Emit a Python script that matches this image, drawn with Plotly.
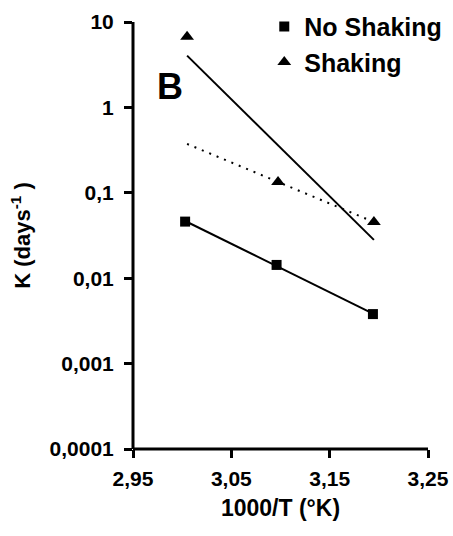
import numpy as np
import plotly.graph_objects as go

# 1000/T (1/K) for the three incubation temperatures
x_no_shaking = [3.003, 3.096, 3.194]
k_no_shaking = [0.046, 0.0143, 0.0038]

x_shaking = [3.005, 3.0975, 3.195]
k_shaking = [6.7, 0.134, 0.0455]

x_tickvals = [2.95, 3.05, 3.15, 3.25]
x_ticktext = ["2,95", "3,05", "3,15", "3,25"]
y_tickvals = [0.0001, 0.001, 0.01, 0.1, 1, 10]
y_ticktext = ["0,0001", "0,001", "0,01", "0,1", "1", "10"]

FONT = "Liberation Sans, Arial, sans-serif"


def bold(s):
    return f"<b>{s}</b>"


def log_fit(xs, ks):
    """Least-squares fit of log10(k) against 1000/T, evaluated at the end points."""
    slope, intercept = np.polyfit(xs, np.log10(ks), 1)
    xe = np.array([xs[0], xs[-1]])
    return xe, 10 ** (slope * xe + intercept)


fit_ns_x, fit_ns_y = log_fit(x_no_shaking, k_no_shaking)
fit_s_x, fit_s_y = log_fit(x_shaking, k_shaking)
# Fit through the two lower-temperature shaking points, extended to the first temperature
slope2, icpt2 = np.polyfit(x_shaking[1:], np.log10(k_shaking[1:]), 1)
fit_s2_x = np.array([x_shaking[0], x_shaking[-1]])
fit_s2_y = 10 ** (slope2 * fit_s2_x + icpt2)

fig = go.Figure()

fig.add_trace(go.Scatter(x=fit_ns_x, y=fit_ns_y, mode="lines",
                         line=dict(color="black", width=2), showlegend=False))
fig.add_trace(go.Scatter(x=fit_s_x, y=fit_s_y, mode="lines",
                         line=dict(color="black", width=2), showlegend=False))
fig.add_trace(go.Scatter(x=fit_s2_x, y=fit_s2_y, mode="lines",
                         line=dict(color="black", width=2, dash="2px,6px"),
                         showlegend=False))

fig.add_trace(go.Scatter(x=x_no_shaking, y=k_no_shaking, mode="markers",
                         name=bold("No Shaking"),
                         marker=dict(symbol="square", size=10, color="black")))
fig.add_trace(go.Scatter(x=x_shaking, y=k_shaking, mode="markers",
                         name=bold("Shaking"),
                         marker=dict(symbol="triangle-up", size=12, color="black")))

fig.add_annotation(x=0.125, y=0.85, xref="paper", yref="paper",
                   xanchor="center", yanchor="middle",
                   text=bold("B"), showarrow=False,
                   font=dict(family=FONT, size=36, color="black"))

# Heavy axis spines
fig.add_shape(type="line", xref="paper", yref="paper", x0=0, x1=1, y0=0, y1=0,
              line=dict(color="black", width=3))
fig.add_shape(type="line", xref="paper", yref="paper", x0=0, x1=0, y0=0, y1=1,
              line=dict(color="black", width=3))

axis_common = dict(
    showline=False,
    ticks="outside", ticklen=8, tickwidth=3, tickcolor="black",
    showgrid=False, zeroline=False,
    tickfont=dict(family=FONT, size=21, color="black"),
)

fig.update_xaxes(
    range=[2.95, 3.25], tickvals=x_tickvals,
    ticktext=[bold(t) for t in x_ticktext],
    ticklabelstandoff=3,
    title=dict(text=bold("1000/T (°K)"), standoff=10,
               font=dict(family=FONT, size=23, color="black")),
    **axis_common,
)
fig.update_yaxes(
    type="log", range=[-4, 1], tickvals=y_tickvals,
    ticktext=[bold(t) for t in y_ticktext],
    ticklabelstandoff=6,
    title=dict(text=bold("K (days<sup>-1</sup> )"), standoff=12,
               font=dict(family=FONT, size=22, color="black")),
    **axis_common,
)

fig.update_layout(
    width=453, height=536,
    margin=dict(l=133, r=25, t=22, b=87, autoexpand=False),
    plot_bgcolor="white", paper_bgcolor="white",
    font=dict(family=FONT, color="black"),
    legend=dict(x=0.445, y=1.043, xanchor="left", yanchor="top",
                bgcolor="rgba(0,0,0,0)", itemwidth=30, tracegroupgap=0,
                font=dict(family=FONT, size=25, color="black")),
)

fig.write_html("out.html")
